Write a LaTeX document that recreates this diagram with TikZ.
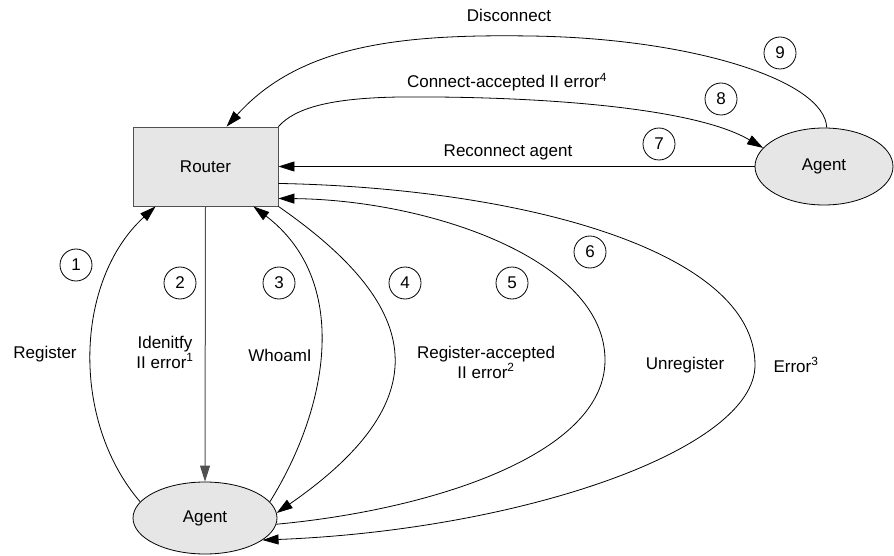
\documentclass[tikz,border=0pt]{standalone}
\usepackage{fontspec}
\setmainfont{Liberation Sans}
\usetikzlibrary{shapes.geometric,arrows.meta,calc}
\definecolor{boxfill}{HTML}{E6E6E6}
\definecolor{boxline}{HTML}{505050}
\begin{document}
\begin{tikzpicture}[x=1pt,y=-1pt,
  every node/.style={font=\fontsize{17}{20}\selectfont},
  routerbox/.style={draw=boxline,line width=0.9pt,fill=boxfill,minimum width=145pt,minimum height=79pt,inner sep=0pt},
  agentell/.style={ellipse,draw=black,line width=0.8pt,fill=boxfill,inner sep=0pt},
  numcirc/.style={circle,draw=black,line width=0.8pt,minimum size=32pt,inner sep=0pt,font=\fontsize{17}{18}\selectfont},
  conn/.style={line width=0.8pt,draw=black},
  arr/.style={conn,-{Triangle[length=16pt,width=10pt]}},
  lbl/.style={align=center,inner sep=0pt}
]
\useasboundingbox (0,0) rectangle (894,556);

\node[routerbox] (router) at (205.5,166.5) {Router};
\node[agentell,minimum width=144pt,minimum height=72pt] (agentB) at (205,518) {Agent};
\node[agentell,minimum width=138pt,minimum height=77pt] (agentR) at (824,166.5) {Agent};

% numbered circles
\node[numcirc] (c1) at (76,265) {1};
\node[numcirc] (c2) at (180,283) {2};
\node[numcirc] (c3) at (279,283) {3};
\node[numcirc] (c4) at (405,283) {4};
\node[numcirc] (c5) at (512,283) {5};
\node[numcirc] (c6) at (590,252) {6};
\node[numcirc] (c7) at (659,144) {7};
\node[numcirc] (c8) at (721,99) {8};
\node[numcirc] (c9) at (780,53) {9};

% labels
\node[lbl] (lDis) at (509,15) {Disconnect};
\node[lbl] (lCon) at (507,82) {Connect-accepted II error\textsuperscript{4}};
\node[lbl] (lRec) at (508,152) {Reconnect agent};
\node[lbl] (lReg) at (45,354) {Register};
\node[lbl] (lIde) at (165,352) {Idenitfy\\II error\textsuperscript{1}};
\node[lbl] (lWho) at (280,355) {WhoamI};
\node[lbl] (lRac) at (486,362) {Register-accepted\\II error\textsuperscript{2}};
\node[lbl] (lUnr) at (685,365) {Unregister};
\node[lbl] (lErr) at (796,365) {Error\textsuperscript{3}};

% 1 Register
\draw[arr] (agentB.166) .. controls (70,420) and (75,280) .. ([xshift=23pt]router.south west);
% 2 Identify
\draw[arr,draw=boxline,line width=1pt] (router.south) -- (agentB.north);
% 3 WhoamI
\draw[arr] (agentB.14) .. controls (330,405) and (350,280) .. ([xshift=-25pt]router.south east);
% 4 Register-accepted
\draw[arr] (router.south east) .. controls (416,302) and (447,395) .. (agentB.4);
% 5 Unregister
\draw[arr] (agentB.-5) .. controls (430,510) and (605,455) .. (605,360)
  .. controls (605,260) and (430,200) .. ([yshift=8pt]router.south east);
% 6 Error
\draw[arr] ([yshift=23pt]router.south east) .. controls (520,188) and (755,250) .. (755,365)
  .. controls (755,450) and (520,530) .. (agentB.-21);
% 7 Reconnect agent
\draw[arr] (agentR.west) -- (router.east);
% 8 Connect-accepted
\draw[arr] (router.north east) .. controls (295,108) and (330,98) .. (400,97)
  .. controls (520,96) and (690,105) .. (agentR.163);
% 9 Disconnect
\draw[arr] (agentR.86) .. controls (825,80) and (690,38) .. (530,36)
  .. controls (400,34) and (300,45) .. ([xshift=94pt]router.north west);
\end{tikzpicture}
\end{document}
